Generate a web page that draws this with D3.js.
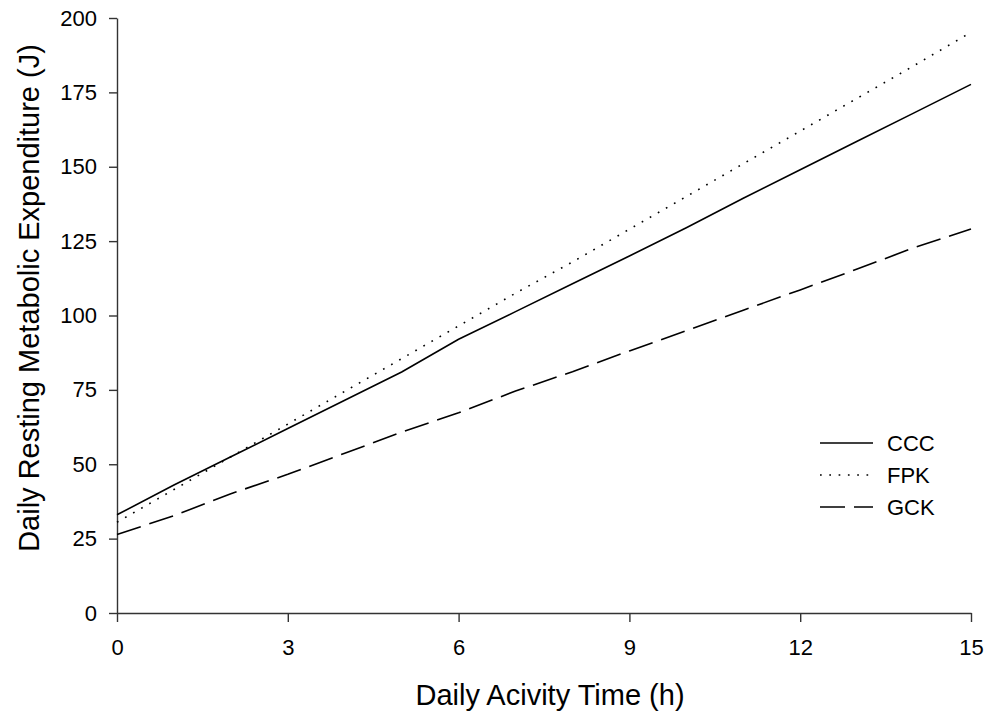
<!DOCTYPE html>
<html>
<head>
<meta charset="utf-8">
<script src="https://cdn.jsdelivr.net/npm/d3@7"></script>
<style>
  body { margin: 0; background: #fff; }
  svg { font-family: "Liberation Sans", Arial, sans-serif; }
</style>
</head>
<body>
<svg id="chart" width="986" height="717"></svg>
<script>
// hours 0..15, values
var hours = [0, 1, 2, 3, 4, 5, 6, 7, 8, 9, 10, 11, 12, 13, 14, 15];
var ccc = [33, 43, 52.5, 62, 71.5, 81, 92, 101.3, 110.7, 120, 129.5, 139.4, 149, 158.6, 168.1, 177.7];
var fpk = [30.5, 41.5, 52.5, 63.5, 74.5, 85.5, 96.5, 107.5, 118, 129, 140, 151, 162, 173, 184, 195.2];
var gck = [26.4, 32.7, 40.1, 46.6, 53.7, 60.8, 67.3, 74.6, 81.1, 88.1, 94.9, 101.8, 108.6, 115.6, 122.8, 129.1];
var seriesNames = ['CCC', 'FPK', 'GCK'];
var xTicks = [0, 3, 6, 9, 12, 15];
var yTicks = [0, 25, 50, 75, 100, 125, 150, 175, 200];

var dashes = { CCC: null, FPK: '1.7,7.6', GCK: '25,9' };

var svg = d3.select('#chart');

var x = d3.scaleLinear().domain([0, 15]).range([117, 971]);
var y = d3.scaleLinear().domain([0, 200]).range([613, 18]);

// axes
var xAxis = svg.append('g')
  .attr('transform', 'translate(0,613)')
  .call(d3.axisBottom(x).tickValues(xTicks).tickSize(9).tickPadding(17).tickSizeOuter(0));

var yAxis = svg.append('g')
  .attr('transform', 'translate(117,0)')
  .call(d3.axisLeft(y).tickValues(yTicks).tickSize(8).tickPadding(12).tickSizeOuter(0));

[xAxis, yAxis].forEach(function(a) {
  a.select('.domain').attr('stroke', '#333').attr('stroke-width', 1.4);
  a.selectAll('.tick line').attr('stroke', '#333').attr('stroke-width', 1.4);
  a.selectAll('.tick text')
    .attr('fill', '#000')
    .style('font-size', '22px')
    .style('font-family', '"Liberation Sans", Arial, sans-serif');
});

// axis titles
svg.append('text')
  .attr('x', 550)
  .attr('y', 705)
  .attr('text-anchor', 'middle')
  .style('font-size', '29px')
  .text('Daily Acivity Time (h)');

svg.append('text')
  .attr('transform', 'translate(39,298) rotate(-90)')
  .attr('text-anchor', 'middle')
  .style('font-size', '29px')
  .text('Daily Resting Metabolic Expenditure (J)');

// lines
var data = [
  { name: 'CCC', values: ccc },
  { name: 'FPK', values: fpk },
  { name: 'GCK', values: gck }
];

var line = d3.line()
  .x(function(d, i) { return x(hours[i]); })
  .y(function(d) { return y(d); });

svg.selectAll('path.series')
  .data(data)
  .enter()
  .append('path')
  .attr('class', 'series')
  .attr('d', function(d) { return line(d.values); })
  .attr('fill', 'none')
  .attr('stroke', '#000')
  .attr('stroke-width', 1.6)
  .attr('stroke-dasharray', function(d) { return dashes[d.name]; });

// legend
var legend = svg.selectAll('g.legend')
  .data(seriesNames)
  .enter()
  .append('g')
  .attr('class', 'legend')
  .attr('transform', function(d, i) { return 'translate(820,' + (443 + i * 32) + ')'; });

legend.append('line')
  .attr('x1', 0)
  .attr('x2', 53)
  .attr('stroke', '#000')
  .attr('stroke-width', 1.6)
  .attr('stroke-dasharray', function(d) { return dashes[d]; });

legend.append('text')
  .attr('x', 67)
  .attr('dy', '0.36em')
  .style('font-size', '22px')
  .text(function(d) { return d; });
</script>
</body>
</html>
